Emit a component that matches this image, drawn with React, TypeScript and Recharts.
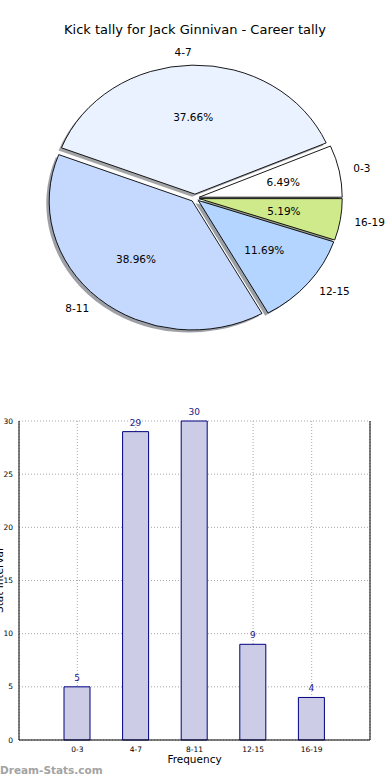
import { PieChart, Pie, BarChart, Bar, XAxis, YAxis, CartesianGrid, LabelList } from "recharts";

// kick tally bins
const bins = ["0-3", "4-7", "8-11", "12-15", "16-19"];
const kicks = [5, 29, 30, 9, 4];
const yTicks = [0, 5, 10, 15, 20, 25, 30];

const sliceColors = ["#ffffff", "#ebf2ff", "#c5d9ff", "#b4d5ff", "#cfea8b"];

const data = bins.map((bin, i) => ({ bin, value: kicks[i] }));

const FONT = "'DejaVu Sans', sans-serif";
const RAD = Math.PI / 180;
// matplotlib pie without equal aspect -> ellipse
const RX = 143;
const RY = 129;
const EXPLODE = 0.03;

function darken(hex: string) {
  const n = parseInt(hex.slice(1), 16);
  const r = Math.round(((n >> 16) & 255) * 0.3);
  const g = Math.round(((n >> 8) & 255) * 0.3);
  const b = Math.round((n & 255) * 0.3);
  return `rgb(${r},${g},${b})`;
}

function wedgePath(props: any) {
  const { cx, cy, startAngle, endAngle, midAngle } = props;
  const m = midAngle * RAD;
  const ox = cx + EXPLODE * RX * Math.cos(m);
  const oy = cy - EXPLODE * RY * Math.sin(m);
  const pt = (a: number) => [ox + RX * Math.cos(a * RAD), oy - RY * Math.sin(a * RAD)];
  const [x1, y1] = pt(startAngle);
  const [x2, y2] = pt(endAngle);
  const large = Math.abs(endAngle - startAngle) > 180 ? 1 : 0;
  return {
    ox,
    oy,
    m,
    d: `M${ox},${oy} L${x1},${y1} A${RX},${RY} 0 ${large} 0 ${x2},${y2} Z`,
  };
}

function renderShadow(props: any) {
  const { d } = wedgePath(props);
  return (
    <path
      key={`s-${props.index}`}
      d={d}
      transform="translate(-2.9, 2.6)"
      fill={darken(sliceColors[props.index])}
      fillOpacity={0.5}
      stroke="none"
    />
  );
}

function renderWedge(props: any) {
  const { ox, oy, m, d } = wedgePath(props);
  const c = Math.cos(m);
  const s = Math.sin(m);
  return (
    <g key={`w-${props.index}`}>
      <path d={d} fill={sliceColors[props.index]} stroke="#000" strokeWidth={0.9} />
      <text
        x={ox + 0.6 * RX * c}
        y={oy - 0.6 * RY * s}
        textAnchor="middle"
        dominantBaseline="central"
        fontSize={10.5}
        fontFamily={FONT}
        fill="#000"
      >
        {(props.percent * 100).toFixed(2)}%
      </text>
      <text
        x={ox + 1.1 * RX * c}
        y={oy - 1.1 * RY * s}
        textAnchor={c > 0 ? "start" : "end"}
        dominantBaseline="central"
        fontSize={10.5}
        fontFamily={FONT}
        fill="#000"
      >
        {props.payload.bin}
      </text>
    </g>
  );
}

function renderYLabel(p: any) {
  const vb = p.viewBox || {};
  const x = 3;
  const y = (vb.y ?? 21) + (vb.height ?? 319) / 2;
  return (
    <text
      x={x}
      y={y}
      transform={`rotate(-90 ${x} ${y})`}
      textAnchor="middle"
      fontSize={10.5}
      fontFamily={FONT}
      fill="#000"
    >
      Stat Interval
    </text>
  );
}

export default function App() {
  return (
    <div style={{ position: "absolute", left: 0, top: 0, width: 390, height: 780, background: "#fff", fontFamily: FONT }}>
      <div
        style={{
          position: "absolute",
          left: 0,
          top: 22,
          width: 390,
          textAlign: "center",
          fontSize: 13,
          lineHeight: "16px",
          color: "#000",
        }}
      >
        Kick tally for Jack Ginnivan - Career tally
      </div>

      <div style={{ position: "absolute", left: 0, top: 0 }}>
        <PieChart width={390} height={400} margin={{ top: 0, right: 0, bottom: 0, left: 0 }}>
          <Pie
            data={data}
            dataKey="value"
            nameKey="bin"
            cx={195}
            cy={198}
            outerRadius={RX}
            startAngle={0}
            endAngle={360}
            fill="transparent"
            stroke="none"
            label={renderShadow}
            labelLine={false}
            isAnimationActive={false}
          />
          <Pie
            data={data}
            dataKey="value"
            nameKey="bin"
            cx={195}
            cy={198}
            outerRadius={RX}
            startAngle={0}
            endAngle={360}
            fill="transparent"
            stroke="none"
            label={renderWedge}
            labelLine={false}
            isAnimationActive={false}
          />
        </PieChart>
      </div>

      <div style={{ position: "absolute", left: 0, top: 400 }}>
        <BarChart width={390} height={380} data={data} margin={{ top: 21, right: 19, bottom: 0, left: 0 }}>
          <CartesianGrid stroke="#a8a8a8" strokeDasharray="1 2" />
          <XAxis
            dataKey="bin"
            padding={{ left: 29, right: 29 }}
            height={40}
            interval={0}
            tickLine={false}
            tickSize={5}
            axisLine={{ stroke: "#000" }}
            tick={{ fontSize: 7.5, fill: "#000", fontFamily: FONT }}
            label={{ value: "Frequency", position: "insideBottom", offset: 17, fontSize: 10.5, fill: "#000", fontFamily: FONT }}
          />
          <XAxis
            xAxisId="top"
            orientation="top"
            dataKey="bin"
            padding={{ left: 29, right: 29 }}
            height={0}
            tick={false}
            tickLine={false}
            axisLine={{ stroke: "#000" }}
          />
          <YAxis
            domain={[0, 30]}
            ticks={yTicks}
            width={19}
            tickLine={false}
            tickSize={4}
            axisLine={{ stroke: "#000" }}
            tick={{ fontSize: 7.5, fill: "#000", fontFamily: FONT }}
            label={renderYLabel}
          />
          <YAxis
            yAxisId="right"
            orientation="right"
            domain={[0, 30]}
            width={1}
            tick={false}
            tickLine={false}
            axisLine={{ stroke: "#000" }}
          />
          <Bar dataKey="value" fill="#ccccE6" stroke="#000080" strokeWidth={1} barSize={26} isAnimationActive={false}>
            <LabelList dataKey="value" position="top" offset={6} fill="#1a1a8c" fontSize={9} fontFamily={FONT} />
          </Bar>
        </BarChart>
      </div>

      <div
        style={{
          position: "absolute",
          left: 0,
          top: 762,
          fontSize: 10.5,
          fontWeight: "bold",
          lineHeight: "16px",
          color: "#a3a3a3",
        }}
      >
        Dream-Stats.com
      </div>
    </div>
  );
}
